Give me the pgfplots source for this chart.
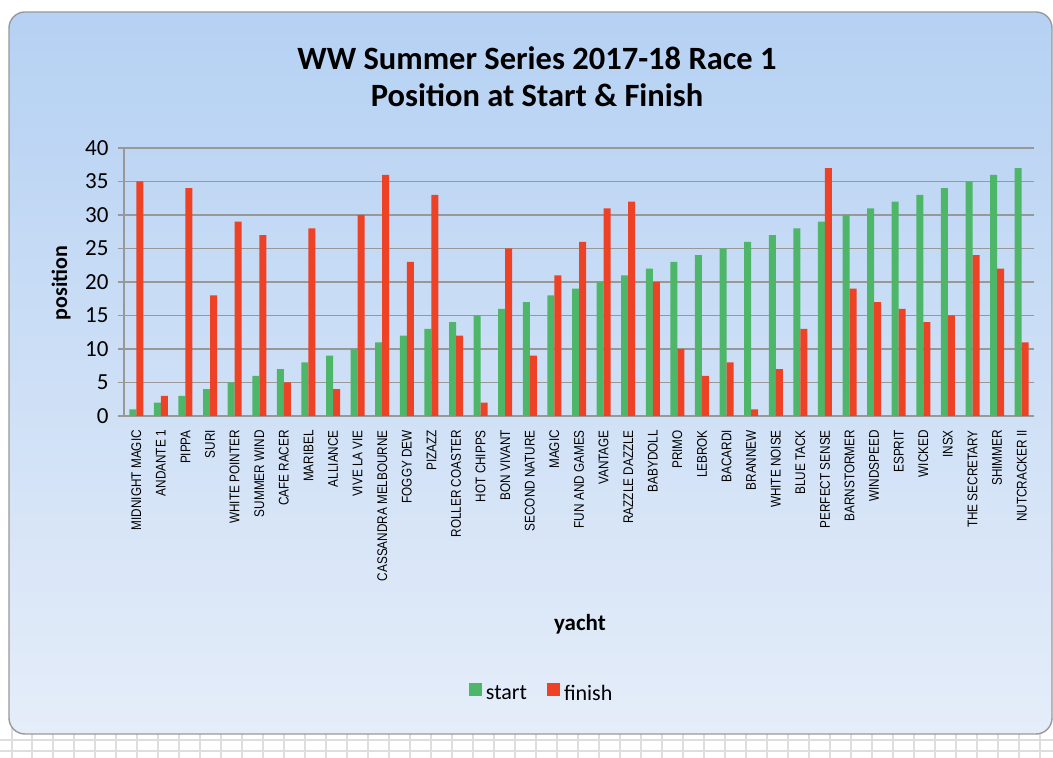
\documentclass[border=0pt]{standalone}
\usepackage{pgfplots}
\pgfplotsset{compat=1.18}
\usepackage{pgfplotstable}
\usepackage{fontspec}
\setmainfont{Carlito}
\newfontfamily\narrowfont[FakeStretch=0.84]{Liberation Sans}
\definecolor{bgtop}{RGB}{181,209,243}
\definecolor{bgbot}{RGB}{229,237,249}
\definecolor{gstart}{RGB}{78,182,104}
\definecolor{rfinish}{RGB}{237,66,38}
\definecolor{gridgray}{RGB}{152,152,152}
\definecolor{cellgray}{RGB}{222,222,222}
\pgfplotstableread{
x start finish
1 1 35
2 2 3
3 3 34
4 4 18
5 5 29
6 6 27
7 7 5
8 8 28
9 9 4
10 10 30
11 11 36
12 12 23
13 13 33
14 14 12
15 15 2
16 16 25
17 17 9
18 18 21
19 19 26
20 20 31
21 21 32
22 22 20
23 23 10
24 24 6
25 25 8
26 26 1
27 27 7
28 28 13
29 29 37
30 30 19
31 31 17
32 32 16
33 33 14
34 34 15
35 35 24
36 36 22
37 37 11
}\yachts
\begin{document}
\begin{tikzpicture}[x=1pt,y=1pt]
\useasboundingbox (0,0) rectangle (1053,758);
\fill[white] (0,0) rectangle (1053,758);
% spreadsheet cells below the panel
\foreach \gx in {12,32,53,74,95,116,137,158,179,200,221,242,263,284,305,326,347,368,389,410,431,452,473,494,515,536,557,578,599,620,641,662,683,704,725,746,767,788,809,830,851,872,893,914,935,956,977,998,1019,1040}
  \draw[cellgray,line width=1.2pt] (\gx,0) -- (\gx,30);
\draw[cellgray,line width=1.2pt] (0,18) -- (1053,18);
\draw[cellgray,line width=1.2pt] (0,7) -- (1053,7);
% panel
\shade[top color=bgtop,bottom color=bgbot,rounded corners=16pt] (9,24) rectangle (1052,746);
\draw[gray!80,line width=1.4pt,rounded corners=16pt] (9,24) rectangle (1052,746);
\begin{axis}[
  at={(124pt,342pt)}, anchor=south west,
  width=910pt, height=268pt, scale only axis,
  xmin=0.5, xmax=37.5, ymin=0, ymax=40,
  ybar=0pt, bar width=7pt,
  axis x line*=bottom, axis y line*=left,
  axis line style={gridgray,line width=1.2pt,-},
  ytick={0,5,...,40},
  ymajorgrids, major grid style={gridgray,line width=1.2pt},
  ytick style={gridgray,line width=1.2pt},
  tick align=outside, major tick length=6pt,
  xtick={1,...,37},
  xtick style={draw=none},
  minor xtick={0.5,1.5,...,37.5},
  minor tick length=5pt,
  minor x tick style={gridgray,line width=1.2pt},
  xticklabels={MIDNIGHT MAGIC,ANDANTE 1,PIPPA,SURI,WHITE POINTER,SUMMER WIND,CAFE RACER,MARIBEL,ALLIANCE,VIVE LA VIE,CASSANDRA MELBOURNE,FOGGY DEW,PIZAZZ,ROLLER COASTER,HOT CHIPPS,BON VIVANT,SECOND NATURE,MAGIC,FUN AND GAMES,VANTAGE,RAZZLE DAZZLE,BABYDOLL,PRIMO,LEBROK,BACARDI,BRANNEW,WHITE NOISE,BLUE TACK,PERFECT SENSE,BARNSTORMER,WINDSPEED,ESPRIT,WICKED,INSX,THE SECRETARY,SHIMMER,NUTCRACKER II},
  xticklabel style={rotate=90, anchor=east, font=\narrowfont\fontsize{14}{14}\selectfont, inner ysep=0pt, inner xsep=8pt},
  yticklabel style={font=\fontsize{23}{23}\selectfont, xshift=-6pt},
  /pgf/number format/assume math mode=true,
  legend style={at={(0.459,-1.034)}, anchor=center, draw=none, fill=none,
    legend columns=2, font=\fontsize{22}{22}\selectfont,
    /tikz/every odd column/.append style={column sep=2pt},
    /tikz/every even column/.append style={column sep=18pt}},
  legend image code/.code={\fill[#1,draw=none] (0pt,-3pt) rectangle (13pt,10pt);},
]
\addplot[fill=gstart,draw=none] table[x=x,y=start]{\yachts};
\addplot[fill=rfinish,draw=none] table[x=x,y=finish]{\yachts};
\legend{start,finish}
\end{axis}
\node[font=\bfseries\fontsize{32.5}{32.5}\selectfont] at (537,700) {WW Summer Series 2017-18 Race 1};
\node[font=\bfseries\fontsize{32.5}{32.5}\selectfont] at (537,663) {Position at Start \& Finish};
\node[font=\bfseries\fontsize{22}{22}\selectfont,rotate=90] at (61,475) {position};
\node[font=\bfseries\fontsize{23}{23}\selectfont] at (580,134) {yacht};
\end{tikzpicture}
\end{document}
